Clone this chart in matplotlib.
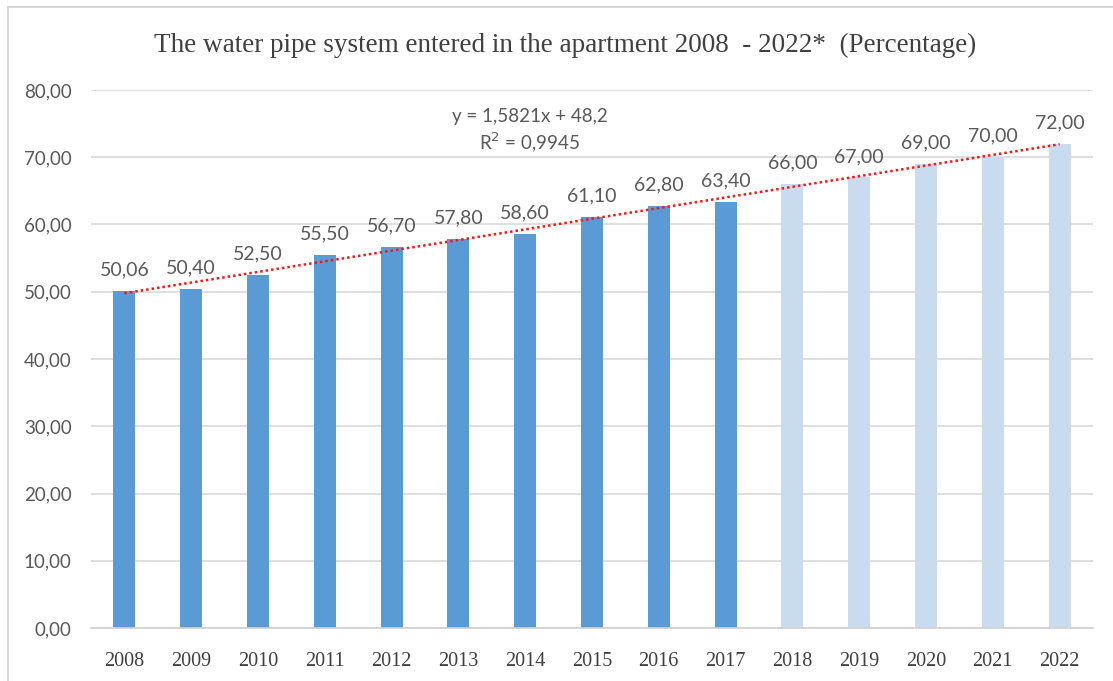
import matplotlib
matplotlib.use("Agg")
import matplotlib.pyplot as plt
from matplotlib.patches import Rectangle
import numpy as np

years = ["2008", "2009", "2010", "2011", "2012", "2013", "2014", "2015",
         "2016", "2017", "2018", "2019", "2020", "2021", "2022"]
values = [50.06, 50.40, 52.50, 55.50, 56.70, 57.80, 58.60, 61.10,
          62.80, 63.40, 66.00, 67.00, 69.00, 70.00, 72.00]
n_actual = 10  # 2008-2017 observed, 2018-2022 projected
trend_slope = 1.5821
trend_intercept = 48.2
trend_r2 = 0.9945
y_ticks = [0, 10, 20, 30, 40, 50, 60, 70, 80]

W, H = 1113, 681
fig = plt.figure(figsize=(W / 100, H / 100), dpi=100)
fig.patch.set_facecolor("white")

# chart frame
fig.patches.append(Rectangle((8 / W, -0.1), 1.2, (H - 7) / H + 0.1,
                             transform=fig.transFigure, fill=False,
                             edgecolor="#d0d0d0", linewidth=1.2))

ax = fig.add_axes([91 / W, 1 - 628 / H, (1093 - 91) / W, (628 - 90) / H])
x = np.arange(len(years))
colors = ["#5B9BD5" if i < n_actual else "#C9DCEF" for i in range(len(years))]
ax.bar(x, values, width=0.33, color=colors, zorder=2)

ax.set_xlim(-0.5, len(years) - 0.5)
ax.set_ylim(0, 80)
ax.set_yticks(y_ticks)
ax.set_yticklabels([f"{v:.2f}".replace(".", ",") for v in y_ticks],
                   fontfamily="Lato", fontsize=13.5, color="#595959")
ax.set_xticks(x)
ax.set_xticklabels(years, fontfamily="Liberation Serif", fontsize=14.5,
                   color="#404040")
ax.tick_params(axis="both", length=0)
ax.tick_params(axis="y", pad=14)
ax.tick_params(axis="x", pad=17)
ax.grid(axis="y", color="#d9d9d9", linewidth=1.2, zorder=0)
for s in ["top", "right", "left"]:
    ax.spines[s].set_visible(False)
ax.spines["bottom"].set_color("#d0d0d0")
ax.spines["bottom"].set_linewidth(1.2)

# value labels
for xi, v in zip(x, values):
    ax.annotate(f"{v:.2f}".replace(".", ","), (xi, v), xytext=(0, 9),
                textcoords="offset points", ha="center", va="bottom",
                fontfamily="Lato", fontsize=14, color="#595959", zorder=4)

# linear trendline over positions 1..15
tx = np.arange(1, len(years) + 1)
ty = trend_slope * tx + trend_intercept
ax.plot(x, ty, color="#F01818", linestyle=(0, (1, 1.2)), linewidth=1.8,
        zorder=3)

ax.text(0.438, 0.95,
        f"y = {trend_slope:.4f}x + {trend_intercept}".replace(".", ","),
        transform=ax.transAxes, ha="center", va="center",
        fontfamily="Lato", fontsize=13.5, color="#595959")
ax.text(0.438, 0.903,
        "R$^2$ = " + f"{trend_r2:.4f}".replace(".", ","),
        transform=ax.transAxes, ha="center", va="center",
        fontfamily="Lato", fontsize=13.5, color="#595959")

fig.text(565 / W, 1 - 45 / H,
         "The water pipe system entered in the apartment 2008  - 2022*  (Percentage)",
         ha="center", va="center", fontfamily="Liberation Serif",
         fontsize=19.5, color="#404040")

fig.savefig("out.png", dpi=100, facecolor="white")
